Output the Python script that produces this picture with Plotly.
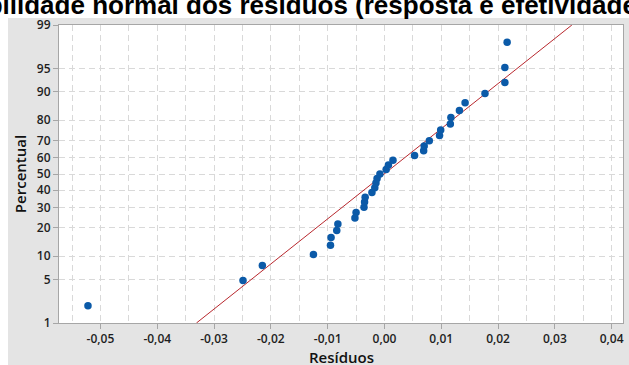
import plotly.graph_objects as go
from statistics import NormalDist

# ---------------- data ----------------
residuals = [-0.0522, -0.0249, -0.0215, -0.0125, -0.0095, -0.0094, -0.0084,
             -0.0082, -0.0052, -0.0050, -0.0036, -0.0035, -0.0034, -0.0022,
             -0.0017, -0.0015, -0.0013, -0.0008, 0.0003, 0.0007, 0.0015,
             0.0053, 0.0069, 0.0070, 0.0079, 0.0097, 0.0099, 0.0116, 0.0117,
             0.0132, 0.0142, 0.0177, 0.0212, 0.0212, 0.0216]
percentual = [1.98, 4.80, 7.63, 10.45, 13.28, 16.10, 18.93, 21.75, 24.58,
              27.40, 30.23, 33.05, 35.88, 38.70, 41.53, 44.35, 47.18, 50.00,
              52.82, 55.65, 58.47, 61.30, 64.12, 66.95, 69.77, 72.60, 75.42,
              78.25, 81.07, 83.90, 86.72, 89.55, 92.37, 95.20, 98.02]
fit_x = [-0.0331, 0.0330]
fit_p = [1.0, 99.0]
y_tick_values = [1, 5, 10, 20, 30, 40, 50, 60, 70, 80, 90, 95, 99]
y_tick_labels = ["1", "5", "10", "20", "30", "40", "50", "60", "70", "80", "90", "95", "99"]
x_tick_values = [-0.05, -0.04, -0.03, -0.02, -0.01, 0.0, 0.01, 0.02, 0.03, 0.04]
x_tick_labels = ["-0,05", "-0,04", "-0,03", "-0,02", "-0,01", "0,00", "0,01", "0,02", "0,03", "0,04"]
x_minor_values = [-0.055, -0.045, -0.035, -0.025, -0.015, -0.005, 0.005, 0.015, 0.025, 0.035]
title_text = "Probabilidade normal dos resíduos (resposta é efetividade)"
x_title = "Resíduos"
y_title = "Percentual"

nd = NormalDist()


def probit(p):
    return nd.inv_cdf(p / 100.0)


W, H = 629, 365
ml, mr, mt, mb = 59, 6, 25, 42
pw, ph = W - ml - mr, H - mt - mb


def px_to_paper_x(px):
    return (px - ml) / pw


def py_to_paper_y(py):
    return (H - mb - py) / ph


grid_col = "#d9d9d9"
frame_col = "#a6a6a6"
panel_col = "#e4e4e4"
tick_font = dict(family="Open Sans", size=12, color="#1e1e1e", weight=600)
label_font = dict(family="Open Sans", size=15, color="#111", weight=600)

fig = go.Figure()
fig.add_trace(go.Scatter(
    x=fit_x, y=[probit(p) for p in fit_p], mode="lines",
    line=dict(color="#b8282e", width=1), hoverinfo="skip", showlegend=False))
fig.add_trace(go.Scatter(
    x=residuals, y=[probit(p) for p in percentual], mode="markers",
    marker=dict(color="#0b5aa8", size=7.5, line=dict(width=0)),
    showlegend=False))

fig.update_layout(
    width=W, height=H,
    margin=dict(l=ml, r=mr, t=mt, b=mb, pad=0, autoexpand=False),
    paper_bgcolor=panel_col, plot_bgcolor="white",
    showlegend=False,
)

fig.update_xaxes(
    automargin=False,
    range=[-0.0573, 0.0420],
    tickmode="array", tickvals=x_tick_values, ticktext=x_tick_labels,
    ticks="outside", ticklen=5, tickcolor=frame_col, tickwidth=1,
    showgrid=True, gridcolor=grid_col, griddash="6px,4px", gridwidth=1,
    minor=dict(tickmode="array", tickvals=x_minor_values, showgrid=True,
               gridcolor=grid_col, griddash="6px,4px", gridwidth=1, ticks=""),
    showline=True, linecolor=frame_col, linewidth=1, mirror=True,
    zeroline=False, tickfont=tick_font,
)
fig.update_yaxes(
    automargin=False,
    range=[probit(1), probit(99)],
    tickmode="array", tickvals=[probit(v) for v in y_tick_values], ticktext=y_tick_labels,
    ticks="outside", ticklen=5, tickcolor=frame_col, tickwidth=1,
    showgrid=True, gridcolor=grid_col, griddash="6px,4px", gridwidth=1,
    showline=True, linecolor=frame_col, linewidth=1, mirror=True,
    zeroline=False, tickfont=tick_font,
    title=dict(text=y_title, font=label_font, standoff=6),
)

# white strips outside the grey chart panel (top and left)
fig.add_shape(type="rect", xref="paper", yref="paper", layer="below",
              x0=px_to_paper_x(-10), x1=px_to_paper_x(W + 10),
              y0=py_to_paper_y(18), y1=py_to_paper_y(-10),
              fillcolor="white", line=dict(width=0))
fig.add_shape(type="rect", xref="paper", yref="paper", layer="below",
              x0=px_to_paper_x(-10), x1=px_to_paper_x(8),
              y0=py_to_paper_y(H + 10), y1=py_to_paper_y(-10),
              fillcolor="white", line=dict(width=0))

# x axis title
fig.add_annotation(text=x_title, xref="paper", yref="paper",
                   x=0.5, y=py_to_paper_y(357), xanchor="center", yanchor="middle",
                   showarrow=False, font=label_font)

# title (wider than the canvas, cropped like the reference)
fig.add_annotation(text="<b>" + title_text + "</b>", xref="paper", yref="paper",
                   x=px_to_paper_x(-89), y=py_to_paper_y(5), xanchor="left", yanchor="middle",
                   showarrow=False, font=dict(family="Liberation Sans", size=26, color="#000"))

fig.write_html("out.html")
